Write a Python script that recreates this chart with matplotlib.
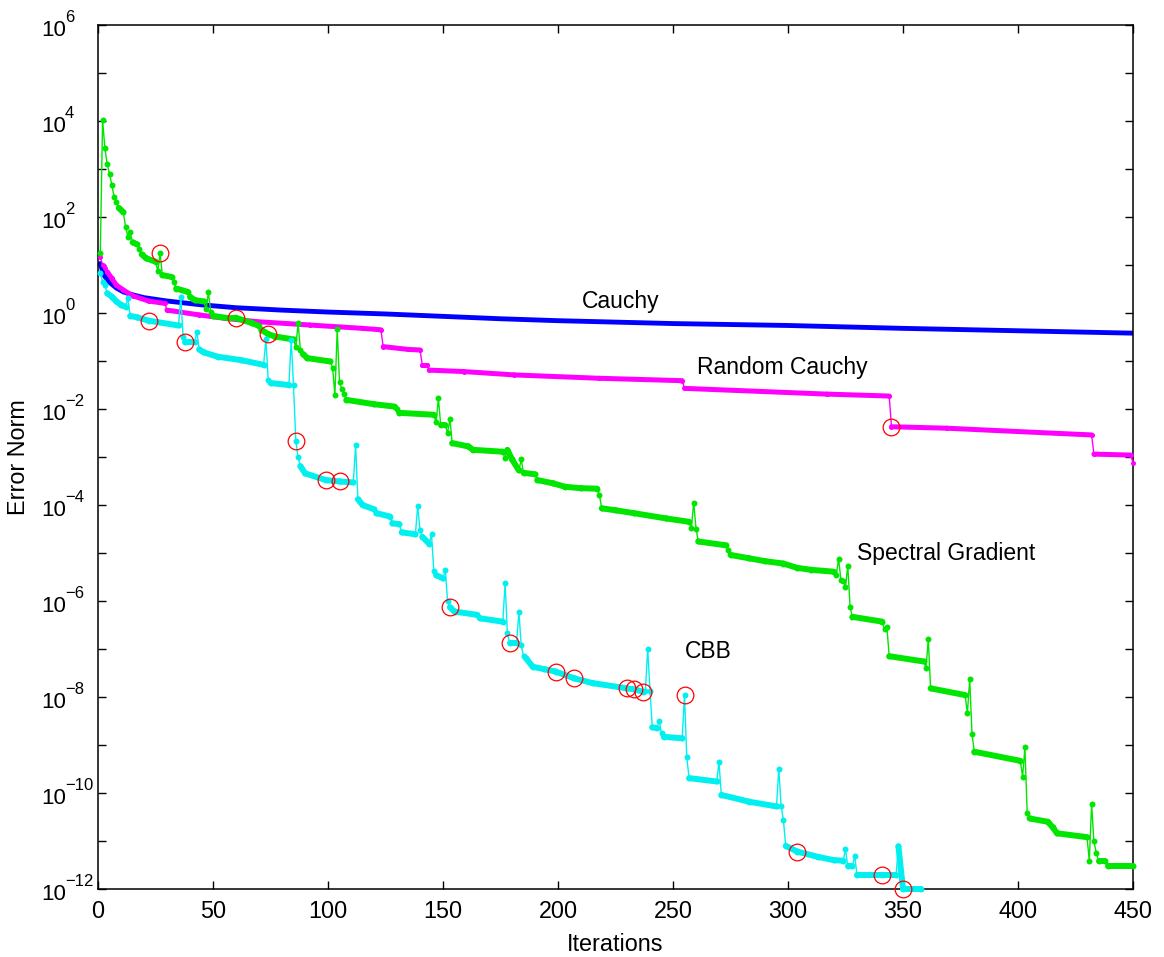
import numpy as np
import matplotlib.pyplot as plt
from matplotlib.ticker import NullLocator

plt.rcParams['font.family'] = ['Liberation Sans', 'DejaVu Sans']

# iterations / log10(error norm)
cauchy_it = [1, 2, 3, 5, 8, 11, 15, 20, 30, 45, 60, 80, 100, 125, 150, 175, 200,
             250, 300, 350, 400, 450]
cauchy_lg = [1.03, 0.87, 0.76, 0.64, 0.52, 0.44, 0.38, 0.32, 0.25, 0.17, 0.11, 0.06,
             0.02, -0.02, -0.07, -0.12, -0.16, -0.22, -0.26, -0.32, -0.37, -0.42]

rc_it = [1, 2, 3, 4, 6, 8, 11, 15, 22, 29, 30, 44, 55, 69, 92, 115, 123, 124, 135, 140,
         141, 143, 144, 159, 181, 218, 254, 255, 317, 344, 345, 369, 418, 432, 433, 449, 450]
rc_lg = [1.17, 1.00, 0.93, 0.86, 0.72, 0.58, 0.48, 0.36, 0.25, 0.20, 0.06, -0.04, -0.11,
         -0.18, -0.25, -0.32, -0.35, -0.70, -0.76, -0.77, -1.08, -1.08, -1.19, -1.22,
         -1.29, -1.36, -1.41, -1.57, -1.69, -1.73, -2.37, -2.40, -2.51, -2.54, -2.94,
         -2.96, -3.12]

sg_it = [1, 2, 3, 4, 5, 6, 7, 8, 9, 11, 12, 13, 14, 15, 17, 18, 19, 21, 25, 26, 27, 28,
         32, 33, 34, 39, 40, 42, 46, 47, 48, 49, 50, 57, 60, 63, 67, 70, 71, 74, 77, 85,
         86, 87, 88, 89, 91, 101, 102, 103, 104, 105, 106, 107, 108, 120, 129, 130, 131,
         146, 147, 148, 149, 151, 152, 153, 154, 161, 163, 176, 177, 178, 180, 183, 184,
         185, 190, 191, 198, 203, 210, 217, 218, 219, 225, 233, 247, 257, 258, 259, 260,
         261, 273, 274, 275, 283, 290, 298, 304, 310, 320, 321, 322, 323, 324, 325, 326,
         327, 328, 341, 342, 343, 344, 359, 360, 361, 362, 377, 378, 379, 380, 381, 401,
         402, 403, 404, 405, 413, 415, 417, 430, 431, 432, 433, 434, 435, 438, 439, 450]
sg_lg = [1.26, 4.02, 3.43, 3.10, 2.90, 2.67, 2.42, 2.31, 2.19, 2.10, 1.79, 1.59, 1.68,
         1.47, 1.43, 1.34, 1.22, 1.14, 1.07, 0.875, 1.24, 0.79, 0.75, 0.65, 0.51, 0.44,
         0.34, 0.27, 0.24, 0.08, 0.43, 0.03, -0.06, -0.11, -0.10, -0.15, -0.21, -0.27,
         -0.35, -0.44, -0.49, -0.55, -0.71, -0.21, -0.77, -0.85, -0.94, -1.01, -1.14,
         -1.71, -0.34, -1.44, -1.58, -1.69, -1.81, -1.90, -1.95, -1.99, -2.08, -2.12,
         -2.28, -1.78, -2.33, -2.33, -2.50, -2.21, -2.71, -2.78, -2.85, -2.89, -3.03,
         -2.85, -3.05, -3.28, -3.05, -3.33, -3.36, -3.48, -3.55, -3.62, -3.65, -3.66,
         -3.79, -4.07, -4.11, -4.17, -4.28, -4.35, -4.47, -3.95, -4.49, -4.76, -4.84,
         -4.93, -5.04, -5.11, -5.17, -5.22, -5.31, -5.35, -5.39, -5.46, -5.12, -5.56,
         -5.58, -5.70, -5.27, -6.13, -6.33, -6.43, -6.59, -6.55, -7.15, -7.26, -7.39,
         -6.80, -7.82, -7.96, -8.34, -7.63, -8.77, -9.14, -9.33, -9.66, -9.05, -10.41,
         -10.53, -10.60, -10.71, -10.84, -10.92, -11.41, -10.23, -11.01, -11.24, -11.41,
         -11.41, -11.53, -11.53]

cbb_it = [1, 2, 3, 4, 6, 8, 10, 12, 13, 14, 17, 22, 35, 36, 37, 38, 42, 43, 44, 46, 52,
          62, 72, 73, 74, 75, 83, 84, 85, 86, 87, 88, 90, 99, 105, 111, 112, 113, 115,
          120, 121, 127, 128, 131, 132, 138, 139, 140, 141, 144, 145, 146, 147, 150, 151,
          152, 153, 155, 165, 166, 176, 177, 178, 179, 182, 183, 184, 185, 186, 189, 194,
          199, 207, 215, 230, 233, 237, 238, 239, 240, 241, 243, 244, 245, 246, 254, 255,
          256, 257, 269, 270, 271, 283, 295, 296, 297, 298, 299, 304, 313, 320, 324, 325,
          326, 328, 329, 330, 341, 347, 348, 350, 358]
cbb_lg = [0.84, 0.65, 0.58, 0.41, 0.34, 0.24, 0.17, 0.13, 0.31, -0.06, -0.09, -0.16,
          -0.26, 0.34, -0.49, -0.60, -0.60, -0.40, -0.76, -0.82, -0.91, -0.98, -1.08,
          -0.55, -1.40, -1.46, -1.50, -0.56, -1.51, -2.66, -3.01, -3.19, -3.34, -3.48,
          -3.51, -3.53, -2.76, -3.88, -4.00, -4.09, -4.17, -4.24, -4.38, -4.40, -4.57,
          -4.61, -4.02, -4.52, -4.66, -4.81, -4.61, -5.37, -5.46, -5.53, -5.35, -6.01,
          -6.13, -6.22, -6.29, -6.36, -6.43, -5.63, -6.67, -6.87, -6.87, -6.22, -6.92,
          -7.15, -7.19, -7.37, -7.42, -7.47, -7.61, -7.71, -7.82, -7.84, -7.89, -7.88,
          -6.99, -7.87, -8.63, -8.65, -8.49, -8.76, -8.83, -8.86, -7.96, -9.26, -9.69,
          -9.76, -9.36, -10.04, -10.18, -10.28, -9.49, -10.27, -10.56, -11.10, -11.22,
          -11.33, -11.40, -11.41, -11.17, -11.53, -11.53, -11.31, -11.71, -11.71, -11.71,
          -11.11, -12.00, -12.00]

# circled iterations
sg_circ = [27, 60, 74]
cbb_circ = [22, 38, 86, 99, 105, 153, 179, 199, 207, 230, 233, 237, 255, 304, 341, 350]
rc_circ = [345]

labels = ['Cauchy', 'Random Cauchy', 'Spectral Gradient', 'CBB']
label_pos = [(210.3, 0.10), (260.4, -1.28), (330.0, -5.15), (255.2, -7.19)]


def draw_series(ax, it, lg, color, size, z):
    x = np.array(it, dtype=float)
    y = 10.0 ** np.array(lg)
    ax.plot(x, y, '-', color=color, lw=1.0, marker='o', ms=size, mec=color, mfc=color,
            mew=0, zorder=z, clip_on=False)
    # consecutive iterations on a plateau overlap into a solid band
    for i in range(len(x) - 1):
        if x[i + 1] - x[i] >= 2:
            ax.plot(x[i:i + 2], y[i:i + 2], '-', color=color, lw=size,
                    solid_capstyle='round', zorder=z, clip_on=False)
    return x, y


def draw_circles(ax, x, y, circ):
    idx = [list(x).index(c) for c in circ]
    ax.plot(x[idx], y[idx], 'o', mfc='none', mec='red', ms=12, mew=0.9, zorder=10,
            clip_on=False)


fig = plt.figure(figsize=(11.64, 9.57), dpi=100)
ax = fig.add_axes([98 / 1164, 68 / 957, 1035 / 1164, 864 / 957])
ax.set_yscale('log')

ax.plot(cauchy_it, 10.0 ** np.array(cauchy_lg), '-', color='#0000ff', lw=3.5,
        solid_capstyle='round', zorder=2)
xr, yr = draw_series(ax, rc_it, rc_lg, '#ff00ff', 3.6, 3)
xg, yg = draw_series(ax, sg_it, sg_lg, '#00e600', 4.3, 4)
xc, yc = draw_series(ax, cbb_it, cbb_lg, '#00f0f0', 4.3, 5)

draw_circles(ax, xg, yg, sg_circ)
draw_circles(ax, xc, yc, cbb_circ)
draw_circles(ax, xr, yr, rc_circ)

for txt, (tx, ty) in zip(labels, label_pos):
    ax.text(tx, 10.0 ** ty, txt, fontsize=16.5, ha='left', va='baseline', zorder=12)

ax.set_xlim(0, 450)
ax.set_ylim(1e-12, 1e6)
ax.set_xticks(range(0, 451, 50))
ax.set_yticks(10.0 ** np.arange(-12, 7))
ax.yaxis.set_minor_locator(NullLocator())
ax.set_yticklabels([])
ax.tick_params(direction='in', top=True, right=True, length=6, width=1,
               labelsize=16.8, pad=8)
for s in ax.spines.values():
    s.set_linewidth(1.1)

# y tick labels: "10" with a superscript exponent
for e in range(-12, 7, 2):
    ax.annotate('10', xy=(0, 10.0 ** e), xycoords=ax.get_yaxis_transform(),
                xytext=(-56.3 * 0.72, -10.5 * 0.72), textcoords='offset points',
                ha='left', va='baseline', fontsize=16, annotation_clip=False)
    ax.annotate(str(e).replace('-', '\u2212'), xy=(0, 10.0 ** e),
                xycoords=ax.get_yaxis_transform(),
                xytext=(-33 * 0.72, 3 * 0.72), textcoords='offset points',
                ha='left', va='baseline', fontsize=12, annotation_clip=False)

ax.set_xlabel('Iterations', fontsize=16.8, va='top')
ax.xaxis.set_label_coords(0.5, -0.051)
ax.set_ylabel('Error Norm', fontsize=16.8)
ax.yaxis.set_label_coords(-0.0657, 0.5)

fig.savefig('out.png', dpi=100)
